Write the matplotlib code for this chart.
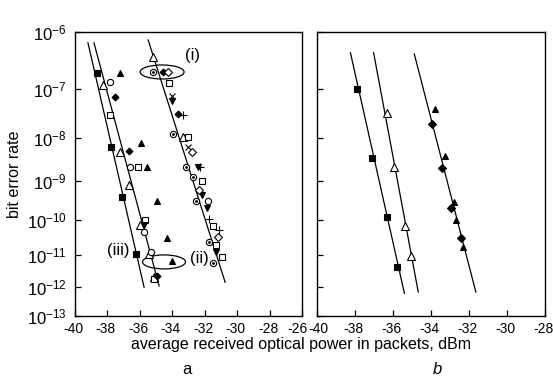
import numpy as np
import matplotlib
matplotlib.use('Agg')
import matplotlib.pyplot as plt
from matplotlib.patches import Ellipse
from matplotlib.transforms import ScaledTranslation
from matplotlib.ticker import NullLocator

plt.rcParams['font.family'] = ['Liberation Sans', 'DejaVu Sans']
plt.rcParams['mathtext.fontset'] = 'custom'
plt.rcParams['mathtext.rm'] = 'Liberation Sans'
plt.rcParams['axes.unicode_minus'] = False

# ---------------- data: (power dBm, log10 BER) ----------------
# panel a
a_fsq_x = [-38.64, -37.78, -37.10, -36.23]
a_fsq_y = [-6.71, -8.21, -9.40, -10.98]
a_otri_x = [-38.27, -37.22, -36.67, -35.99, -35.43, -35.12, -35.19, -33.33]
a_otri_y = [-6.93, -8.32, -9.10, -10.15, -10.98, -11.70, -6.42, -7.98]
a_ocir_x = [-37.84, -36.60, -35.31, -35.74, -31.79]
a_ocir_y = [-6.87, -8.67, -10.92, -10.34, -9.50]
a_osq_x = [-37.84, -36.11, -35.68, -35.12, -34.20, -33.02, -32.16, -31.48, -31.30, -30.93]
a_osq_y = [-7.52, -8.67, -10.01, -11.75, -6.89, -7.98, -9.00, -10.17, -10.72, -11.07]
a_fdia_x = [-37.53, -36.67, -34.94, -34.57, -33.64]
a_fdia_y = [-7.16, -8.30, -11.66, -6.69, -7.50]
a_ftri_x = [-37.22, -35.93, -35.56, -34.94, -34.32, -34.01]
a_ftri_y = [-6.71, -8.12, -8.67, -9.50, -10.51, -11.19]
a_fdown_x = [-35.74, -34.01, -32.41, -32.16, -31.85, -31.30]
a_fdown_y = [-10.15, -7.24, -8.67, -9.35, -9.69, -10.92]
a_cross_x = [-34.01, -33.02]
a_cross_y = [-7.14, -8.21]
a_plus_x = [-33.33, -32.28, -31.73, -31.11]
a_plus_y = [-7.52, -8.67, -9.98, -10.29]
a_odot_x = [-35.19, -33.95, -33.15, -32.72, -32.53, -31.73, -31.48]
a_odot_y = [-6.69, -7.92, -8.67, -8.90, -9.50, -10.63, -11.26]
a_odia_x = [-34.26, -32.78, -32.35, -31.17]
a_odia_y = [-6.69, -8.32, -9.22, -10.48]
# fitted lines (end points)
a_line1_x = [-39.20, -35.74]
a_line1_y = [-6.18, -12.02]
a_line2_x = [-38.83, -34.81]
a_line2_y = [-6.18, -11.98]
a_line3_x = [-35.49, -30.74]
a_line3_y = [-6.13, -11.86]

# panel b
b_fsq_x = [-37.91, -37.08, -36.34, -35.77]
b_fsq_y = [-7.00, -8.45, -9.93, -11.38]
b_otri_x = [-36.29, -35.93, -35.35, -35.04]
b_otri_y = [-7.48, -8.67, -10.17, -11.04]
b_ftri_x = [-33.79, -33.26, -32.79, -32.69, -32.32]
b_ftri_y = [-7.40, -8.41, -9.53, -10.01, -10.77]
b_fdia_x = [-33.94, -33.42, -32.95, -32.43]
b_fdia_y = [-7.71, -8.69, -9.69, -10.51]
b_line1_x = [-38.24, -35.40]
b_line1_y = [-6.35, -12.22]
b_line2_x = [-37.02, -34.67]
b_line2_y = [-6.35, -12.18]
b_line3_x = [-34.88, -31.64]
b_line3_y = [-6.37, -12.18]

ytick_exp = [6, 7, 8, 9, 10, 11, 12, 13]
ytick_labels = [r'$\mathregular{10^{-%d}}$' % e for e in ytick_exp]
a_xticks = [-40, -38, -36, -34, -32, -30, -28, -26]
b_xticks = [-40, -38, -36, -34, -32, -30, -28]

xlabel = 'average received optical power in packets, dBm'
ylabel = 'bit error rate'


def ber(v):
    return 10.0 ** np.asarray(v, float)


def fwd(b):
    b = np.clip(np.asarray(b, float), 1e-300, 1 - 1e-12)
    return -np.log10(-np.log10(b))


def inv(y):
    return 10.0 ** (-(10.0 ** (-np.asarray(y, float))))


W, H = 553, 381
fig = plt.figure(figsize=(W / 100, H / 100), dpi=100)
top, bottom = 32, 316
axa = fig.add_axes([75 / W, 1 - bottom / H, (302 - 75) / W, (bottom - top) / H])
axb = fig.add_axes([317 / W, 1 - bottom / H, (545 - 317) / W, (bottom - top) / H])

mk = dict(ls='none', mec='black', mew=0.8)
white = dict(mfc='white')
black = dict(mfc='black')


def px_shift(dx):
    return ScaledTranslation(dx / 100, 0, fig.dpi_scale_trans)


def style(ax, xticks, xlim, labels, first_dx, last_dx):
    ax.set_yscale('function', functions=(fwd, inv))
    ax.set_ylim(1e-13, 1e-6)
    ax.set_xlim(*xlim)
    ax.set_yticks([10.0 ** -e for e in ytick_exp])
    ax.yaxis.set_minor_locator(NullLocator())
    ax.set_xticks(xticks)
    ax.set_xticklabels([str(t) for t in xticks])
    if labels:
        ax.set_yticklabels(ytick_labels)
    else:
        ax.set_yticklabels([])
    ax.tick_params(axis='both', direction='in', length=4, width=0.9,
                   top=False, right=False)
    ax.tick_params(axis='x', labelsize=10, pad=4.5)
    ax.tick_params(axis='y', labelsize=12, pad=6)
    lbls = ax.get_xticklabels()
    for i, lbl in enumerate(lbls):
        dx = -1.5
        if i == 0:
            dx = first_dx
        elif i == len(lbls) - 1:
            dx = last_dx
        lbl.set_transform(lbl.get_transform() + px_shift(dx))
    for s in ax.spines.values():
        s.set_linewidth(1.0)


def line(ax, x, y):
    ax.plot(x, ber(y), color='black', lw=0.9)


# ---- panel a ----
for lx, ly in [(a_line1_x, a_line1_y), (a_line2_x, a_line2_y), (a_line3_x, a_line3_y)]:
    line(axa, lx, ly)
axa.plot(a_fsq_x, ber(a_fsq_y), marker='s', ms=4.5, **black, **mk)
axa.plot(a_otri_x, ber(a_otri_y), marker='^', ms=6, **white, **mk)
axa.plot(a_ocir_x, ber(a_ocir_y), marker='o', ms=4.5, **white, **mk)
axa.plot(a_osq_x, ber(a_osq_y), marker='s', ms=4.5, **white, **mk)
axa.plot(a_fdia_x, ber(a_fdia_y), marker='D', ms=3.5, **black, **mk)
axa.plot(a_ftri_x, ber(a_ftri_y), marker='^', ms=5, **black, **mk)
axa.plot(a_fdown_x, ber(a_fdown_y), marker='v', ms=5, **black, **mk)
axa.plot(a_cross_x, ber(a_cross_y), marker='x', ms=4.5, **mk)
axa.plot(a_plus_x, ber(a_plus_y), marker='+', ms=5.5, **mk)
axa.plot(a_odot_x, ber(a_odot_y), marker='o', ms=4.5, **white, **mk)
axa.plot(a_odot_x, ber(a_odot_y), marker='o', ms=1.2, **black, **mk)
axa.plot(a_odia_x, ber(a_odia_y), marker='D', ms=3.8, **white, **mk)
style(axa, a_xticks, (-40, -26), True, -1.5, -5)


def ellipse(ax, x, yexp, wpx, hpx):
    tr = fig.dpi_scale_trans + ScaledTranslation(x, 10.0 ** yexp, ax.transData)
    ax.add_patch(Ellipse((0, 0), wpx / 100, hpx / 100, transform=tr,
                         fill=False, ec='black', lw=0.9))


ellipse(axa, -34.63, -6.69, 44, 14)
ellipse(axa, -34.51, -11.22, 43, 14)
axa.text(-32.78, 10.0 ** -6.39, '(i)', fontsize=12, ha='center', va='center')
axa.text(-32.35, 10.0 ** -11.13, '(ii)', fontsize=12, ha='center', va='center')
axa.text(-37.35, 10.0 ** -10.89, '(iii)', fontsize=12, ha='center', va='center')

# ---- panel b ----
for lx, ly in [(b_line1_x, b_line1_y), (b_line2_x, b_line2_y), (b_line3_x, b_line3_y)]:
    line(axb, lx, ly)
axb.plot(b_fsq_x, ber(b_fsq_y), marker='s', ms=4.5, **black, **mk)
axb.plot(b_otri_x, ber(b_otri_y), marker='^', ms=6, **white, **mk)
axb.plot(b_ftri_x, ber(b_ftri_y), marker='^', ms=5, **black, **mk)
axb.plot(b_fdia_x, ber(b_fdia_y), marker='D', ms=4, **black, **mk)
style(axb, b_xticks, (-40, -28), False, 1.5, -1.5)

fig.text(301 / W, 1 - 344 / H, xlabel, fontsize=11.5, ha='center', va='center')
fig.text(15 / W, 1 - 174 / H, ylabel, fontsize=11.5, ha='center', va='center',
         rotation=90)
fig.text(187 / W, 1 - 370 / H, 'a', fontsize=12, ha='center', va='center')
fig.text(437 / W, 1 - 370 / H, 'b', fontsize=12, ha='center', va='center',
         style='italic')

fig.savefig('out.png', dpi=100)
